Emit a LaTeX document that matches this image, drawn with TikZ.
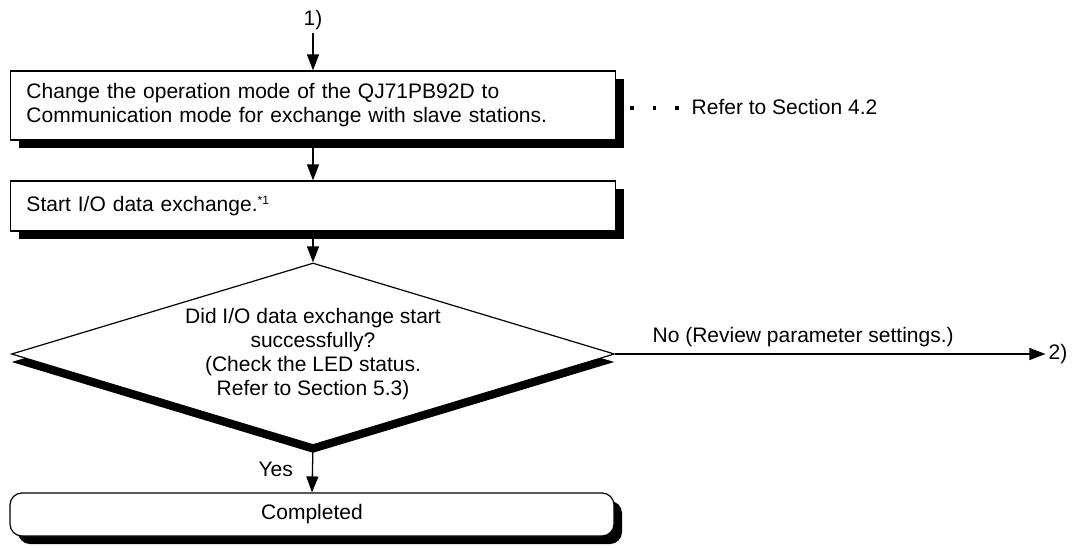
\documentclass[tikz,border=0pt]{standalone}
\usepackage{fontspec}
\setmainfont{Liberation Sans}
\usetikzlibrary{shapes.geometric,shadows,arrows.meta}
\newcommand{\sqdot}{\raisebox{5pt}{\rule{3.5pt}{3.5pt}}}
\begin{document}
\begin{tikzpicture}[x=1pt,y=-1pt,
  every node/.style={font=\fontsize{21}{24}\selectfont},
  flow/.style={draw=black, line width=1.2pt, fill=white},
  arr/.style={line width=1.3pt, -{Triangle[length=16pt,width=12pt]}},
  boxshadow/.style={drop shadow={shadow xshift=8pt, shadow yshift=-8pt, fill=black, opacity=1}},
  diashadow/.style={drop shadow={shadow xshift=0pt, shadow yshift=-8pt, fill=black, opacity=1}},
  lbl/.style={inner sep=3pt},
]
\path[fill=white] (0,0) rectangle (1077,547);
\useasboundingbox (0,0) rectangle (1077,547);

\node[lbl] (one) at (313,20) {1)};

\node[flow, boxshadow, rectangle, minimum width=605pt, minimum height=69pt,
      text width=573pt, inner xsep=16pt, align=left] (box1) at (313,105.5)
  {Change the operation mode of the QJ71PB92D to\\Communication mode for exchange with slave stations.};

\node[lbl, anchor=west] (ref1) at (627,107)
  {\sqdot\hspace{19pt}\sqdot\hspace{19pt}\sqdot\hspace{13pt}Refer to Section 4.2};

\node[flow, boxshadow, rectangle, minimum width=605pt, minimum height=50pt,
      text width=573pt, inner xsep=16pt, align=left] (box2) at (313,206)
  {Start I/O data exchange.\raisebox{7pt}{\fontsize{12}{12}\selectfont*1}};

\node[flow, diashadow, diamond, aspect=3.31, minimum width=603pt, minimum height=182pt,
      inner sep=0pt, align=center] (dia) at (313,354)
  {Did I/O data exchange start\\successfully?\\(Check the LED status.\\Refer to Section 5.3)};

\node[flow, boxshadow, rectangle, rounded corners=12pt, minimum width=604pt, minimum height=43pt]
  (done) at (312,514.5) {Completed};

\node[lbl] (two) at (1058,354) {2)};

\draw[arr] (one.south) -- (box1.north);
\draw[arr] (box1.south) -- (box2.north);
\draw[arr] (box2.south) -- (dia.north);
\draw[arr] (dia.south) -- (done.north)
  node[lbl, pos=0.5, anchor=east, xshift=-16pt] {Yes};
\draw[arr] (dia.east) -- (two.west)
  node[lbl, pos=0.437, anchor=south, yshift=3pt] {No (Review parameter settings.)};
\end{tikzpicture}
\end{document}
